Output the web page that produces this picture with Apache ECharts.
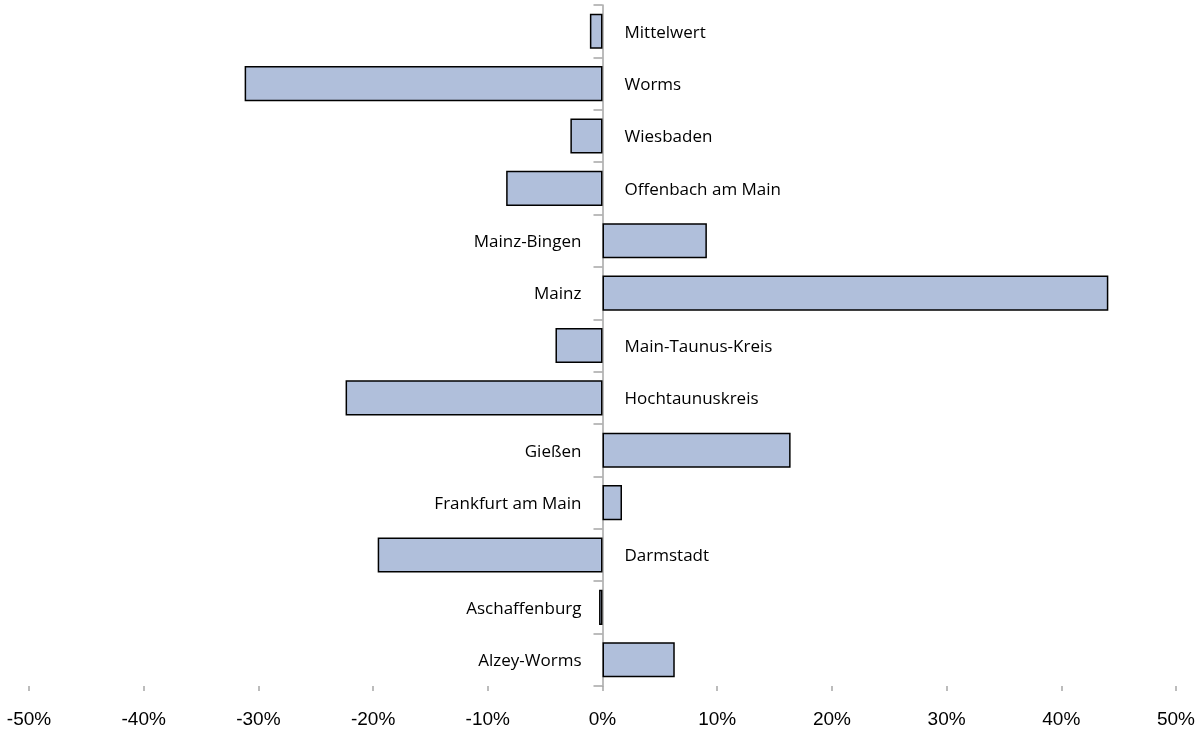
<!DOCTYPE html>
<html>
<head>
<meta charset="utf-8">
<script src="https://cdn.jsdelivr.net/npm/echarts@6/dist/echarts.min.js"></script>
<style>html,body{margin:0;padding:0;background:#fff}#c{width:1203px;height:735px}</style>
</head>
<body>
<div id="c"></div>
<script>
const categories = ["Alzey-Worms","Aschaffenburg","Darmstadt","Frankfurt am Main","Gießen","Hochtaunuskreis","Main-Taunus-Kreis","Mainz","Mainz-Bingen","Offenbach am Main","Wiesbaden","Worms","Mittelwert"];
const values = [6.3, -0.3, -19.6, 1.7, 16.4, -22.4, -4.1, 44.1, 9.1, -8.4, -2.8, -31.2, -1.1];
const xTicks = {min: -50, max: 50, interval: 10};

const chart = echarts.init(document.getElementById('c'));
const pxPerUnit = (1203 - 29 - 27) / (xTicks.max - xTicks.min);
chart.setOption({
  animation: false,
  grid: {left: 29, right: 27, top: 5, bottom: 49, containLabel: false},
  xAxis: {
    type: 'value', min: xTicks.min, max: xTicks.max, interval: xTicks.interval,
    axisLine: {onZero: false, lineStyle: {color: '#a6a6a6', width: 1.5}},
    axisTick: {show: true, length: 5, lineStyle: {color: '#a6a6a6', width: 1.5}},
    splitLine: {show: false},
    axisLabel: {formatter: '{value}%', margin: 24, fontFamily: 'Liberation Sans', fontSize: 19, color: '#000'}
  },
  yAxis: {
    type: 'category', data: categories,
    axisLine: {onZero: true, lineStyle: {color: '#a6a6a6', width: 1.5}},
    axisTick: {show: true, length: 9, lineStyle: {color: '#a6a6a6', width: 1.5}},
    axisLabel: {show: false}
  },
  series: [{
    type: 'bar',
    barCategoryGap: '33%',
    itemStyle: {color: '#b0bfdb', borderColor: '#000', borderWidth: 1.5},
    data: values.map(v => {
      const right = v < -0.5;
      const dist = right ? 22 : (v < 0 ? 21 - Math.abs(v) * pxPerUnit : 21);
      return {
        value: v,
        label: {show: true, position: right ? 'right' : 'left', distance: dist,
          offset: [0, 1.5],
          formatter: '{b}', fontFamily: 'Open Sans', fontSize: 17, color: '#000'}
      };
    })
  }]
});
</script>
</body>
</html>
